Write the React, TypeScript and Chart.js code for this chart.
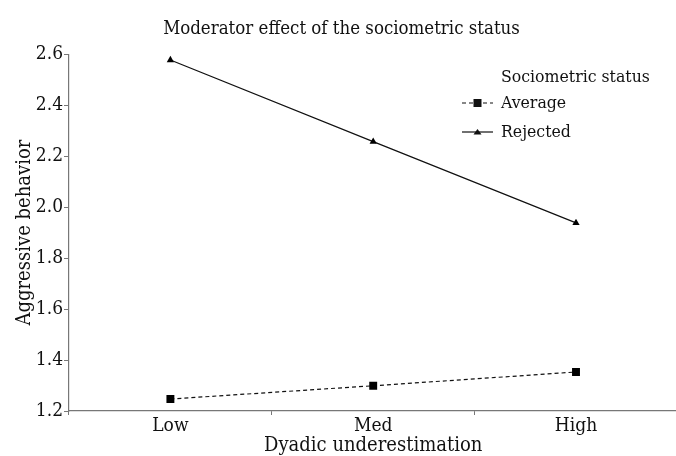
import React, { useEffect, useRef } from "react";
import { Chart, registerables } from "chart.js";

Chart.register(...registerables);

const categories = ["Low", "Med", "High"];
const averageValues = [1.247, 1.299, 1.353];
const rejectedValues = [2.577, 2.257, 1.938];
const yTicks = [1.2, 1.4, 1.6, 1.8, 2.0, 2.2, 2.4, 2.6];
const seriesNames = ["Average", "Rejected"];
const legendTitle = "Sociometric status";
const chartTitle = "Moderator effect of the sociometric status";
const xTitle = "Dyadic underestimation";
const yTitle = "Aggressive behavior";

const FONT = "'DejaVu Serif Condensed', 'DejaVu Serif', serif";
const INK = "#111";
const AXIS = "#777";

const legendPlugin = {
  id: "customLegend",
  afterDraw(chart: any) {
    const ctx = chart.ctx;
    const x0 = 462;
    const x1 = 493;
    const tx = 501;
    ctx.save();
    ctx.fillStyle = INK;
    ctx.font = `17.5px ${FONT}`;
    ctx.textBaseline = "middle";
    ctx.textAlign = "left";
    ctx.fillText(legendTitle, tx, 77);
    const rows = [103, 132];
    chart.data.datasets.forEach((ds: any, i: number) => {
      const y = rows[i];
      ctx.strokeStyle = INK;
      ctx.lineWidth = 1.2;
      ctx.setLineDash(ds.borderDash || []);
      ctx.beginPath();
      ctx.moveTo(x0, y);
      ctx.lineTo(x1, y);
      ctx.stroke();
      ctx.setLineDash([]);
      const cx = (x0 + x1) / 2;
      ctx.beginPath();
      if (ds.pointStyle === "rect") {
        ctx.rect(cx - 4, y - 4, 8, 8);
      } else {
        ctx.moveTo(cx - 4, y + 2.5);
        ctx.lineTo(cx + 4, y + 2.5);
        ctx.lineTo(cx, y - 3);
        ctx.closePath();
      }
      ctx.fill();
      ctx.fillText(ds.label, tx, y);
    });
    ctx.restore();
  },
};

export default function App() {
  const ref = useRef<HTMLCanvasElement | null>(null);
  useEffect(() => {
    if (!ref.current) return;
    const chart = new Chart(ref.current, {
      type: "line",
      data: {
        labels: categories,
        datasets: [
          {
            label: seriesNames[0],
            data: averageValues,
            borderColor: INK,
            backgroundColor: INK,
            borderWidth: 1.2,
            borderDash: [4, 3],
            pointStyle: "rect",
            pointRadius: 5.6,
            pointBorderWidth: 0,
            pointBackgroundColor: "#000",
          },
          {
            label: seriesNames[1],
            data: rejectedValues,
            borderColor: INK,
            backgroundColor: INK,
            borderWidth: 1.2,
            pointStyle: "triangle",
            pointRadius: 4.2,
            pointBorderWidth: 0,
            pointBackgroundColor: "#000",
          },
        ],
      },
      options: {
        animation: false,
        responsive: true,
        maintainAspectRatio: false,
        layout: { padding: 0 },
        plugins: {
          legend: { display: false },
          tooltip: { enabled: false },
          title: {
            display: true,
            text: chartTitle,
            color: INK,
            font: { family: FONT, size: 18.5, weight: "normal" },
            padding: { top: 18, bottom: 14 },
          },
        },
        scales: {
          x: {
            type: "category",
            offset: true,
            grid: {
              offset: true,
              drawOnChartArea: false,
              drawTicks: true,
              tickLength: 4,
              color: AXIS,
            },
            border: { color: AXIS, width: 1.2 },
            ticks: {
              color: INK,
              padding: 0,
              font: { family: FONT, size: 19 },
            },
            title: {
              display: true,
              text: xTitle,
              color: INK,
              font: { family: FONT, size: 20 },
              padding: 0,
            },
            afterFit(scale: any) {
              scale.height = 47;
            },
          },
          y: {
            min: 1.2,
            max: 2.6,
            afterBuildTicks(scale: any) {
              scale.ticks = yTicks.map((v) => ({ value: v }));
            },
            grid: {
              drawOnChartArea: false,
              drawTicks: true,
              tickLength: 5,
              color: AXIS,
            },
            border: { color: AXIS, width: 1.2 },
            ticks: {
              color: INK,
              padding: 1,
              font: { family: FONT, size: 19 },
              callback: (v: any) => Number(v).toFixed(1),
            },
            title: {
              display: true,
              text: yTitle,
              color: INK,
              font: { family: FONT, size: 20 },
              padding: { top: 13, bottom: 0 },
            },
            afterFit(scale: any) {
              scale.width = 69;
            },
          },
        },
      },
      plugins: [legendPlugin],
    });
    return () => chart.destroy();
  }, []);
  return (
    <div style={{ position: "fixed", left: 0, top: 0, width: 683, height: 458, background: "#fff" }}>
      <canvas ref={ref} />
    </div>
  );
}
